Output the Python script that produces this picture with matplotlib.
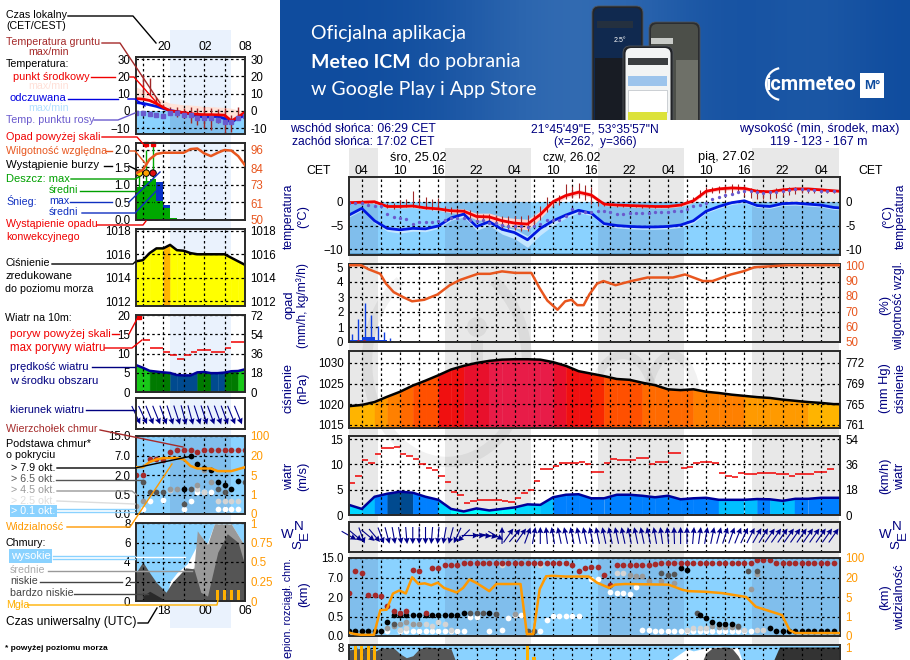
import matplotlib
matplotlib.use("Agg")
import matplotlib.pyplot as plt
import numpy as np
from matplotlib.lines import Line2D
from matplotlib.patches import Arc, Circle, FancyBboxPatch, Rectangle

W, H = 910, 660
plt.rcParams["font.family"] = ["Liberation Sans", "DejaVu Sans"]

NAVY = "#000080"
SKY = "#8AD2FF"
SKY_NIGHT = "#80BEEC"
RH_COLOR = "#E8561E"
VIS_COLOR = "#FF9900"
GROUND = "#A02828"
CLOUD_TOP = "#A52A2A"
DEW = "#6A5ACD"
TICK_SIZE = 8.3

# ---------- main meteogram data (hours since 25.02 00:00 CET) ----------
hours = list(range(2, 79, 2)) + [79]
temp_mid = [-0.2, -0.1, 0, -1.0, -1.0, -0.9, -1.3, -1.5, -1.9, -2.0, -3.1, -3.2, -4.0, -4.5, -4.7, -2.7, 0, 1.3, 2, 1.4, -0.5, -0.7, -0.8, -0.9, -1, -1, -0.7, 0.2, 2.2, 2.7, 2.9, 2.8, 2.2, 2.1, 2.5, 2.7, 2.7, 2.5, 2.3, 2.2]
temp_hi = [0, 0.1, 0.2, -0.7, -0.7, -0.6, -1, -1.2, -1.5, -1.5, -2.4, -2.4, -3.2, -3.5, -3.7, -1.9, 0.6, 1.8, 2.6, 1.9, -0.2, -0.4, -0.5, -0.6, -0.7, -0.7, -0.4, 0.6, 2.6, 3.1, 3.3, 3.2, 2.6, 2.5, 2.9, 3.1, 3, 2.8, 2.6, 2.5]
temp_lo = [-0.4, -0.3, -0.3, -1.3, -1.3, -1.2, -1.6, -1.8, -2.3, -2.6, -3.8, -4, -4.8, -5.5, -5.9, -3.5, -0.6, 0.8, 1.5, 0.9, -0.8, -1, -1.1, -1.2, -1.3, -1.3, -1, -0.2, 1.8, 2.3, 2.5, 2.4, 1.8, 1.7, 2.1, 2.3, 2.4, 2.2, 2, 1.9]
felt_mid = [-2.8, -1.4, -4.0, -5.6, -5.9, -5.6, -5.7, -5.1, -3.4, -2.6, -5.2, -4.2, -5.8, -6.5, -8.0, -5.6, -4.0, -2.8, -1.8, -2.4, -4.6, -5, -5.2, -5.3, -5.3, -5.2, -4.9, -4, -2, -1, -0.2, 0.2, -0.8, -1, -0.4, -0.3, -0.5, -0.7, -1.2, -1.3]
felt_hi = [-2.5, -1.1, -3.7, -5.2, -5.4, -5.2, -5.3, -4.8, -3.1, -2.2, -4.6, -3.7, -5.2, -5.8, -7.2, -4.9, -3.5, -2.4, -1.5, -2.1, -4.3, -4.7, -4.9, -5, -5, -4.9, -4.6, -3.7, -1.7, -0.7, 0.1, 0.5, -0.5, -0.7, -0.1, 0, -0.2, -0.4, -0.9, -1]
felt_lo = [-3.2, -1.8, -4.5, -6.2, -6.6, -6.2, -6.3, -5.6, -3.9, -3.2, -6, -5, -6.8, -7.8, -9.6, -7, -5, -3.4, -2.3, -2.9, -5.1, -5.5, -5.7, -5.8, -5.8, -5.7, -5.4, -4.5, -2.4, -1.4, -0.6, -0.2, -1.2, -1.4, -0.8, -0.7, -0.9, -1.1, -1.6, -1.7]

ground_hours = list(range(2, 79))
dew_point = [-0.2, -0.3, -0.2, -0.6, -1, -0.9, -2.6, -3.3, -3.5, -3.6, -4.6, -4.3, -4.2, -4.2, -4.1, -3.8, -3.5, -3.4, -3.5, -3.8, -4, -3.9, -4.4, -4.5, -4.9, -5, -5, -5.2, -5.3, -5.2, -4.7, -3.9, -3.9, -3.9, -2.9, -1.6, -2.4, -2.2, -2.1, -1.9, -2, -2.2, -2.6, -2.6, -2.3, -2.3, -2.3, -2.3, -2.2, -2.2, -2.1, -2, -1.9, -1.6, -1, -0.7, -0.2, 0.6, 1.1, 1.5, 1.7, 2, 2.2, 2.3, 2, 1.9, 2, 2.1, 2.3, 2.5, 2.6, 2.6, 2.5, 2.4, 2.3, 2.2, 2.2]
ground_max = [-0.1, 0, 0, 0.1, 0, 0, -0.2, -0.2, 0.3, 0.5, 2.2, 0.8, 0.9, 0.5, 0.7, -0.8, -1.2, -1.3, -1.5, -1.8, -2.2, -2.6, -2.6, -2.8, -3, -3, -3, -3, -2.8, -2.5, -1, 1, 0, 1.5, 3.8, 3.4, 4, 3.6, 3, 0.5, 0, -0.5, -0.7, -0.7, -0.8, -0.8, -0.9, -0.9, -0.9, -0.8, -0.8, -0.6, -0.5, 0.5, 1, 2.5, 3, 3.2, 3.3, 3.5, 3.7, 3.8, 3.5, 2.8, 2.6, 2.2, 2.4, 2.8, 3, 3, 3, 2.9, 2.7, 2.6, 2.5, 2.4, 2.3]
ground_min = [-0.4, -0.4, -0.3, -0.3, -0.3, -0.5, -1.4, -1.5, -1.4, -1.2, -1.2, -1.2, -1.5, -1.7, -1.8, -2.2, -2.5, -2.8, -3, -3.5, -4, -4.2, -4.4, -4.8, -5.5, -5.8, -6, -6.2, -6.2, -5.2, -3.8, -2.2, -1.2, -0.6, 0.6, 0.7, 0.8, 0.4, -0.4, -1, -1, -1, -1.1, -1.2, -1.2, -1.2, -1.3, -1.3, -1.3, -1.2, -1.2, -1, -0.8, 0, 0.3, 1, 1.5, 1.8, 1.8, 1.8, 1.8, 1.8, 1.2, 0.8, 0.6, 0.5, 0.6, 0.8, 1.2, 1.5, 1.7, 1.8, 1.9, 1.8, 1.8, 1.8, 1.8]

rh_hours = [2, 3.9, 5, 6.9, 7.8, 9, 10.6, 11.9, 13.8, 15.9, 17.8, 19.4, 22.2, 24.1, 26, 28.1, 30.6, 31.9, 33.1, 34.7, 35.9, 36.9, 37.8, 38.8, 39.7, 40.9, 41.9, 43.8, 46.3, 48.8, 52.8, 54.7, 57.5, 59, 61.9, 63.8, 65.6, 68.1, 70.6, 79]
rh_values = [100, 100, 97.5, 94.4, 88, 82.5, 79, 76.5, 77.5, 81, 87, 90.4, 94.4, 94.4, 96, 95, 95, 85, 77, 71, 76.5, 77.5, 74, 74, 81, 88, 89.7, 87, 89.7, 92, 92, 94, 89.7, 89.7, 94, 96, 98.7, 99.3, 100, 100]
precip_spike_hours = [2.5, 3.4, 4.5, 5.5, 6.6, 7.5, 8.4]
precip_spike = [0.55, 1.55, 2.6, 1.8, 1.1, 0.7, 0.3]
precip_hours = [2, 3, 4, 5, 6, 7, 8]
precip_mean = [0.12, 0.12, 0.35, 0.35, 0.15, 0.15, 0.08]

pressure = [1019.5, 1019.8, 1020.5, 1021.8, 1023, 1024.5, 1025.7, 1027, 1028.4, 1029.3, 1030, 1030.5, 1030.8, 1030.9, 1030.9, 1030.8, 1030.2, 1029.3, 1028, 1027.4, 1026.8, 1026.1, 1025.9, 1025.2, 1024.6, 1023.6, 1023.4, 1023.6, 1023, 1022.7, 1022.3, 1022, 1021.7, 1021.5, 1021.1, 1020.8, 1020.5, 1020.3, 1020, 1020]
pressure_bounds = [1016.6, 1020.5, 1022, 1023.5, 1025, 1026.5, 1027.5, 1029, 1030.3]
pressure_colors = ["#FFFF00", "#FFB400", "#FF9A00", "#FF8000", "#FF6A00", "#FF5000", "#F82800", "#F01010", "#E8102C", "#E81C48"]

wind_speed = [2.0, 1.2, 3.6, 4.2, 4.6, 4.4, 3.6, 3, 1.2, 0.7, 1.3, 0.9, 1.2, 1.5, 2.1, 2, 3.5, 4, 4.1, 3.3, 3.3, 4, 4, 3.8, 3.5, 3.8, 3.1, 3.3, 3.4, 3, 3, 3, 3.15, 3.1, 2.8, 3.2, 3.2, 3.4, 3.4, 3.4]
gust = [6.3, 7.7, 10.9, 10.3, 12, 13.2, 13.2, 13.5, 12, 11.7, 11, 10, 9.3, 8.8, 7.8, 6.5, 4.5, 3.9, 2.3, 2.8, 3, 3, 3, 3, 2.8, 2.5, 3.3, 4.3, 5, 6.7, 9, 9, 9.7, 10.3, 10.3, 10.3, 10.5, 10, 8.5, 8.5, 10.2, 11, 10.9, 10.9, 10.9, 11.3, 11.3, 10, 10.5, 10.5, 12.3, 12.3, 9.3, 9.5, 10.3, 10.5, 10.4, 10.2, 8.3, 7.8, 7.5, 8.3, 8, 8, 8.2, 8.2, 8.2, 8, 8, 7.7, 8, 8, 8, 8.5, 8.5, 9]
wind_bounds = [1.5, 2.2, 3.1, 4.2, 5.0, 5.5]
wind_colors = ["#00FFFF", "#00D8FF", "#00BFFF", "#0080FF", "#004A8F", "#007A00", "#18C818"]
wind_dir = [300, 310, 340, 310, 320, 340, 345, 350, 350, 355, 0, 0, 0, 5, 5, 10, 15, 25, 45, 270, 270, 275, 280, 300, 180, 215, 220, 215, 200, 190, 180, 175, 170, 168, 168, 168, 168, 168, 168, 168, 168, 168, 168, 168, 168, 168, 168, 168, 170, 172, 175, 178, 180, 180, 185, 188, 190, 192, 195, 198, 200, 202, 205, 207, 210, 212, 215, 215, 215, 215, 215, 215, 215, 215, 215, 215, 215]

cloud_top_hours = list(range(2, 79))
cloud_top = [2.9, 9.5, 9, 2.6, 2.6, 2.2, 1.3, 0.9, 0.8, 0.9, 10, 9.5, 0.8, 11, 11, 12, 12, 12, 13, 13, 13, 13, 13, 13, 13, 13, 13, 13, 13, 13, 13, 13, 13, 13, 13, 12, 9.5, 11, 11.5, 11.5, 8, 5, 12, 12, 12, 12, 12, 12, 12.5, 13, 13, 13, 13, 13, 13, 13, 13, 13, 13, 13, 13, 13, 13, 13, 14, 14.2, 14, 13, 13, 13, 13, 13, 13, 13, 13, 13, 13]
base8_hours = [2, 3, 4, 5, 6, 7, 8, 9, 10, 11, 12, 13, 14, 15, 16, 17, 18, 19, 20, 24, 57, 58, 59, 60, 61, 62, 54, 55, 68, 69, 70, 71, 72, 73, 74, 75, 76, 77, 78]
base8_km = [0.12, 0.12, 0.12, 0.12, 0.12, 0.14, 0.35, 0.6, 0.6, 0.6, 0.65, 0.65, 0.6, 0.6, 0.65, 0.65, 0.65, 0.65, 0.75, 0.8, 0.6, 0.45, 0.35, 0.3, 0.3, 0.3, 11, 10, 0.2, 0.13, 0.13, 0.13, 0.13, 0.13, 0.13, 0.13, 0.13, 0.13, 0.13]
base6_hours = [9, 21, 22, 23, 25, 30, 31, 51, 52, 53, 56.5, 63, 64.5, 66]
base6_km = [0.3, 0.8, 0.8, 0.8, 0.7, 0.12, 0.12, 9, 8, 8.5, 0.75, 0.25, 9.5, 9.5]
base4_hours = [8, 9, 10, 11, 12, 13, 25, 28, 46, 47, 48, 49, 51, 53, 66, 65, 59, 60, 61, 62, 63]
base4_km = [0.2, 0.25, 0.3, 0.35, 0.3, 0.3, 0.7, 0.7, 8, 7.5, 7.5, 6, 6, 5.5, 8.5, 4, 0.25, 0.22, 0.22, 0.22, 0.22]
base2_hours = [10, 11, 12, 14, 15, 16, 17, 18, 26, 32, 44, 45, 55, 56, 57, 58, 64, 66, 67]
base2_km = [0.15, 0.2, 0.3, 0.3, 0.25, 0.35, 0.3, 0.15, 12, 12, 9, 9, 0.15, 0.2, 0.2, 0.2, 0.15, 0.15, 0.15]
base0_hours = [7, 8, 10, 11, 12, 13, 14, 15, 16, 17, 18, 19, 20, 21, 22, 24, 26, 27, 28, 29, 32, 33, 34, 35, 36, 37, 38, 40, 41, 43, 44, 45, 46, 47, 48, 49, 50, 51, 52, 53, 54, 55, 56, 57, 58, 59, 60, 61, 62, 63, 64, 65]
base0_km = [0.12, 0.12, 0.12, 0.12, 0.12, 0.12, 0.12, 0.12, 0.12, 0.12, 0.12, 0.12, 0.12, 0.5, 0.5, 0.14, 0.16, 0.45, 0.65, 0.65, 0.12, 0.4, 0.55, 0.55, 0.55, 0.55, 0.55, 6.5, 6.5, 3.2, 3, 2.9, 2.8, 4.5, 0.16, 0.15, 0.14, 0.14, 0.14, 0.14, 0.13, 0.13, 0.14, 0.14, 0.14, 0.14, 0.14, 0.14, 0.14, 0.13, 0.13, 0.12]
vis_hours = [2, 2.9, 3.9, 5.9, 6.9, 7.9, 8.9, 9.9, 10.9, 11.9, 12.9, 13.9, 14.9, 15.9, 16.9, 18.9, 19.9, 20.9, 21.9, 22.9, 24, 25.1, 28.9, 29.9, 30.9, 31.9, 32.9, 33.9, 35.9, 39.6, 40.9, 42.8, 43.7, 45.3, 52.1, 54.3, 55.3, 58, 60.5, 64.3, 65.8, 69.9, 71.1, 72, 79]
vis_km = [0.17, 0.1, 0.06, 0.06, 2.3, 2.4, 7.7, 10, 7.7, 21, 15, 15.5, 14, 16, 12, 8.5, 12, 18.5, 16, 13, 9.5, 15, 15, 0.1, 0.1, 11, 25, 27, 24, 24, 16, 12, 14.5, 15, 14.5, 10.5, 9.5, 9, 8, 5, 3, 1.3, 0.3, 0.15, 0.15]

low_hours = [2, 3, 5, 6.2, 7, 9, 10, 11, 12, 13, 14, 18, 18.8, 20, 57, 58, 59, 61, 62, 63, 64]
low_cover = [7.8, 7.9, 8, 7.7, 8, 8, 7.4, 7, 7.2, 7.9, 8.1, 7.9, 6.5, 6, 6, 7.5, 8, 8.1, 8, 7.2, 6]
high_hours = [51, 53, 55, 56, 58, 60, 63, 64]
high_cover = [6, 7, 7.9, 7.7, 8, 8.1, 8, 6]
vlow_hours = [67, 68.5, 69.5, 78, 79]
vlow_cover = [6, 6.6, 8.1, 8.1, 8.1]
fog_hours = [3, 4, 5, 6, 30, 31]
fog_density = [1, 1, 1, 1, 1, 0.85]

# ---------- legend meteogram data (hours local, 16..32) ----------
leg_hours = list(range(16, 33))
leg_temp = [7.1, 6.8, 6, 4.2, 2, 0.0, -0.5, -1, -1.6, -2, -2.2, -2.2, -2.3, -2.5, -5.8, -3.5, -0.8]
leg_temp_hi = [14, 12, 10, 8, 6, 4.5, 4, 3.5, 3.4, 3, 2.5, 2.5, 2.2, 2, 1.5, 0.5, 0]
leg_felt = [4.8, 4.4, 3.5, 2.6, 1.4, 0.2, -0.4, -1.2, -1.8, -3, -3.6, -3.4, -3.2, -4.5, -6.6, -4, -2.7]
leg_dew = [-1, -1.3, -1.8, -2.2, -2.7, -1.4, -1, -2.3, -2.3, -4.3, -4.3, -4.3, -5.2, -6.2, -6.2, -4.3, -3]
leg_ground_hours = list(range(17, 32))
leg_ground_max = [21, 19, 8, 4, 2.5, 2.2, 1.5, 2, 1.5, 2, 1.4, 1.2, 1.5, -2.4, 2.5]
leg_ground_min = [10, 9, 3.5, 1, -2.4, -3.3, -4.2, -7, -8, -10, -11, -7, -13, -12.5, -5]
leg_rh = [80.7, 82.9, 89.9, 93.4, 94.2, 94.2, 94.2, 94.2, 96.6, 97, 93.8, 92, 94.2, 96, 95.6, 92, 86]
leg_rain_hours = [16, 17, 18, 19, 20, 21]
leg_rain = [0.94, 1.1, 1.18, 0.53, 0.34, 0.07]
leg_snow = [0, 0, 0, 0.55, 0.09, 0]
leg_rain_max_hours = [16.5, 17.5, 18.5]
leg_rain_max = [1.35, 2.0, 2.1]
leg_storm_colors = ["#FFE000", "#FFA000", "#E01010"]
leg_pressure = [1015.4, 1015.5, 1016.1, 1016.5, 1016.5, 1016.8, 1016.35, 1016.3, 1016.1, 1016, 1016, 1016, 1016, 1016, 1015.7, 1015.4, 1015.1]
leg_wind = [7, 6.3, 5.5, 5.3, 5.1, 4.95, 4.4, 4.3, 4.3, 5.1, 5.2, 4.9, 4.9, 5.05, 5.4, 5.45, 5.9]
leg_gust_hours = list(range(17, 32))
leg_gust = [13.5, 11.5, 11.5, 10.4, 9.6, 8.7, 9.7, 10.4, 10.8, 10.8, 10.4, 10.4, 11.5, 12.9, 12.9]
leg_dir = [335, 335, 338, 338, 340, 342, 342, 345, 345, 342, 342, 340, 340, 340, 338, 338]

leg_top_hours = list(range(16, 33))
leg_top = [2, 2, 6.2, 6.2, 5.8, 8.4, 9.2, 9.4, 9.4, 8.4, 9.4, 9.4, 9.4, 9.4, 9.4, 9.4, 9.4]
leg_base8_hours = [23, 24, 25, 26, 27, 28, 29, 30, 31]
leg_base8 = [0.89, 7, 4.7, 3.8, 3.2, 1.48, 1.22, 0.89, 1.52]
leg_base6_hours = [17, 18, 19, 20, 23, 24, 28, 29, 32]
leg_base6 = [1.5, 0.66, 0.66, 0.66, 0.25, 0.89, 0.89, 0.66, 1.48]
leg_base4_hours = [16, 17, 21, 22, 25, 26, 27]
leg_base4 = [0.2, 0.34, 0.89, 0.89, 1.22, 3.4, 1.48]
leg_base2_hours = [16, 21, 25, 26, 28, 29, 30, 31]
leg_base2 = [0.2, 0.85, 0.89, 0.71, 0.34, 0.34, 0.34, 0.34]
leg_base0_hours = [17, 18, 20, 23, 24, 25, 26, 27, 28, 29, 30, 31]
leg_base0 = [0.12, 0.34, 0.37, 0.12, 0.34, 0.66, 0.66, 0.71, 0.12, 0.12, 0.12, 0.12]
leg_vis_hours = [16, 17, 18, 19, 20, 21, 22, 23, 24, 25, 26, 27, 28, 29, 30, 31, 32]
leg_vis = [11, 11, 15, 17, 18, 18, 18, 17, 12, 10, 10, 10, 8, 8, 8, 9.5, 11]

leg_cloud_high_hours = [20.4, 21, 22, 23.5, 25, 26.5, 27.5, 30, 32]
leg_cloud_high = [0, 2.0, 2.9, 3.8, 5.8, 6, 7.9, 7.9, 5.6]
leg_cloud_mid_hours = [23.3, 24.5, 25, 25.5, 26.5, 27.5, 30, 32]
leg_cloud_mid = [3.0, 3.4, 7.2, 6.7, 5.8, 7.9, 7.9, 5.6]
leg_cloud_low_hours = [16, 17, 18, 19, 20.4, 21.3, 23.3, 24.5, 25.5, 26.5, 28, 29.4, 31, 32]
leg_cloud_low = [2.9, 4, 2.9, 1.9, 0.9, 1.9, 3.4, 3.3, 0.9, 0.5, 5, 6.9, 6, 3.6]
leg_cloud_vlow_hours = [17, 18, 20, 20.5]
leg_cloud_vlow = [0.5, 1, 0.2, 0]
leg_fog_hours = [28, 29, 30, 31]
leg_fog = [0.14, 0.14, 0.14, 0.14]

km_ticks = [0, 0.5, 2, 7, 15]
vis_ticks = [0, 1, 5, 20, 100]
even_ticks = [0, 1, 2, 3, 4]


def km_forward(v):
    return np.interp(v, km_ticks, even_ticks)


def km_inverse(v):
    return np.interp(v, even_ticks, km_ticks)


def vis_forward(v):
    return np.interp(v, vis_ticks, even_ticks)


def vis_inverse(v):
    return np.interp(v, even_ticks, vis_ticks)


fig = plt.figure(figsize=(W / 100, H / 100), dpi=100, facecolor="white")
renderer = fig.canvas.get_renderer()


def fx(x):
    return x / W


def fy(y):
    return 1 - y / H


def add_axes(x0, y0, x1, y1):
    return fig.add_axes([fx(x0), fy(y1), (x1 - x0) / W, (y1 - y0) / H])


def panel(box, xlim, ylim, yticks, grid_x, ylabels=None, size=TICK_SIZE, pad=4):
    """One framed panel with dashed grid and left tick labels"""
    ax = add_axes(*box)
    ax.patch.set_alpha(0)
    ax.set_xlim(*xlim)
    ax.set_ylim(*ylim)
    ax.set_xticks(grid_x)
    ax.set_xticklabels([])
    ax.set_yticks(yticks)
    if ylabels is not None:
        ax.set_yticklabels(ylabels)
    ax.tick_params(length=0, labelsize=size, pad=pad)
    ax.grid(True, color="black", lw=0.9, linestyle=(0, (2, 2.2)), zorder=6)
    ax.set_axisbelow(False)
    for spine in ax.spines.values():
        spine.set_linewidth(1.4)
        spine.set_color("#2A2A2A")
        spine.set_zorder(8)
    return ax


def right_axis(ax, ylim, ticks, labels, color="black", size=TICK_SIZE, pad=4, yscale=None):
    other = ax.twinx()
    other.patch.set_alpha(0)
    if yscale is not None:
        other.set_yscale("function", functions=yscale)
    other.set_ylim(*ylim)
    other.set_yticks(ticks)
    other.set_yticklabels(labels)
    other.minorticks_off()
    other.tick_params(length=0, labelsize=size, pad=pad, labelcolor=color)
    for spine in other.spines.values():
        spine.set_visible(False)
    return other


def fill_levels(ax, xs, ys, bounds, colors, base):
    for i in range(len(xs) - 1):
        mean = (ys[i] + ys[i + 1]) / 2
        color = colors[np.digitize(mean, bounds)]
        ax.fill_between(xs[i:i + 2], ys[i:i + 2], base, color=color, lw=0.3, zorder=2)


def sky_fill(ax, bottom, top, nights):
    ax.fill_between(ax.get_xlim(), bottom, top, color=SKY, lw=0, zorder=1)
    for a, b in nights:
        ax.fill_between([a, b], bottom, top, color=SKY_NIGHT, lw=0, zorder=1.1)


def scatter_layer(ax, xs, ys, color, size, zorder=4):
    ax.scatter(xs, ys, s=size, color=color, linewidths=0, zorder=zorder, clip_on=True)


def arrows(ax, xs, directions, length, ypos):
    theta = np.deg2rad(np.array(directions, dtype=float))
    ax.quiver(
        xs,
        [ypos] * len(xs),
        -np.sin(theta),
        -np.cos(theta),
        pivot="mid",
        angles="uv",
        units="dots",
        scale_units="dots",
        scale=1 / length,
        width=1.1,
        headwidth=5.5,
        headlength=5.5,
        headaxislength=5,
        color="#00008B",
        clip_on=False,
        zorder=5,
    )


def txt(x, y, s, color="black", size=8.8, ha="left", va="center", rotation=0, width=None, min_size=7.7, **kw):
    """Figure text at pixel position, optionally scaled to a pixel length"""
    t = fig.text(fx(x), fy(y), s, color=color, fontsize=size, ha=ha, va=va, rotation=rotation, **kw)
    if width is not None:
        box = t.get_window_extent(renderer=renderer)
        current = box.height if rotation else box.width
        t.set_fontsize(max(size * width / current, min_size))
    return t


def leader(points, color="black", lw=1.0):
    xs = [fx(p[0]) for p in points]
    ys = [fy(p[1]) for p in points]
    fig.add_artist(Line2D(xs, ys, color=color, lw=lw, transform=fig.transFigure, zorder=9))


# ---------- backgrounds ----------
main_bg = add_axes(349, 148, 840, 660)
main_bg.set_xlim(2, 79)
main_bg.set_ylim(0, 1)
main_bg.axis("off")
night_main = [(2, 6.5), (17, 30.5), (41, 54.5), (65.2, 78.8)]
for a, b in night_main:
    main_bg.axvspan(a, b, color="#E8E8E8", lw=0)

# faint logo behind the main chart
mark = add_axes(280, 120, 910, 660)
mark.set_xlim(280, 910)
mark.set_ylim(660, 120)
mark.axis("off")
mark_style = dict(color="black", alpha=0.055)
mark.add_patch(Arc((447, 362), 160, 200, theta1=-60, theta2=240, lw=7.5, **mark_style))
mark.add_patch(Circle((477, 327), 10, lw=0, **mark_style))
mark.add_patch(Rectangle((471, 340), 12, 80, lw=0, **mark_style))
mark.add_patch(Arc((623, 405), 62, 100, theta1=180, theta2=360, lw=6, **mark_style))
mark.add_patch(Arc((672, 405), 50, 100, theta1=180, theta2=345, lw=6, **mark_style))

leg_bg = add_axes(136, 30, 245, 628)
leg_bg.set_xlim(16, 32)
leg_bg.set_ylim(0, 1)
leg_bg.axis("off")
leg_bg.axvspan(21, 30, color="#EAF2FD", lw=0)
night_leg = [(21, 30)]

# ---------- banner ----------
banner = add_axes(280, 0, 910, 120)
xg = np.linspace(0, 1, 200)
gradient = 0.62 * np.exp(-(((xg - 0.47) / 0.2) ** 2)) + 0.2 * np.exp(-(((xg - 0.85) / 0.1) ** 2))
base_rgb = np.array([15, 76, 158]) / 255
light_rgb = np.array([70, 125, 190]) / 255
strip = base_rgb + (light_rgb - base_rgb) * gradient[:, None]
banner.imshow(strip[None, :, :], extent=[280, 910, 120, 0], aspect="auto", zorder=0)
banner.set_xlim(280, 910)
banner.set_ylim(120, 0)
banner.axis("off")
for x0, y0, x1, face, screen in [
    (592, 6, 643, "#23262B", "#10294F"),
    (649, 22, 700, "#2B2D30", "#4C4F49"),
]:
    banner.add_patch(FancyBboxPatch((x0, y0), x1 - x0, 140, boxstyle="round,pad=0,rounding_size=7", fc=face, ec="#50545A", lw=0.6, zorder=2))
    banner.add_patch(FancyBboxPatch((x0 + 2, y0 + 2), x1 - x0 - 4, 140, boxstyle="round,pad=0,rounding_size=6", fc=screen, ec="none", zorder=2.1))
banner.add_patch(Rectangle((595, 58), 46, 62, fc="#181C24", ec="none", zorder=2.15))
banner.add_patch(Rectangle((597, 21), 36, 7, fc="#24303F", ec="none", zorder=2.2))
banner.add_patch(Rectangle((651, 38), 22, 6, fc="#C9CCC8", ec="none", zorder=2.2))
banner.add_patch(Rectangle((676, 60), 22, 60, fc="#6E7068", ec="none", zorder=2.2))
banner.add_patch(FancyBboxPatch((623, 46), 50, 120, boxstyle="round,pad=0,rounding_size=7", fc="#222428", ec="#50545A", lw=0.6, zorder=3))
banner.add_patch(FancyBboxPatch((625.5, 48), 45, 120, boxstyle="round,pad=0,rounding_size=6", fc="#F2F4F4", ec="none", zorder=3.1))
banner.add_patch(Rectangle((628, 58), 40, 7, fc="#3A3D40", ec="none", zorder=3.2))
banner.add_patch(Rectangle((628, 76), 39, 10, fc="#9CC4EC", ec="none", zorder=3.2))
banner.add_patch(Rectangle((628, 90), 39, 22, fc="white", ec="#AAB0B8", lw=0.4, zorder=3.2))
banner.add_patch(Rectangle((628, 112), 39, 8, fc="#DCE23A", ec="none", zorder=3.2))
banner.text(614, 41, "2.5°", color="white", fontsize=5, ha="left", va="center", zorder=2.3)
banner.add_patch(Rectangle((860, 73), 24, 25, fc="white", ec="none", zorder=3))
banner.text(872, 86, "M°", color="#0F4C9E", fontsize=9.5, fontweight="bold", ha="center", va="center", zorder=4)
banner.add_patch(Arc((782, 84), 32, 32, theta1=100, theta2=260, color="white", lw=1.6, zorder=3))
banner.text(811, 85, "icmmeteo", color="white", fontsize=14.5, fontweight="bold", family="Roboto", ha="center", va="center", zorder=4)
banner.text(311, 34, "Oficjalna aplikacja", color="white", fontsize=14, family="Lato", va="center")
banner.text(311, 62, "Meteo ICM", color="white", fontsize=14, family="Lato", fontweight="bold", va="center")
banner.text(418, 62, "do pobrania", color="white", fontsize=14, family="Lato", va="center")
banner.text(311, 90, "w Google Play i App Store", color="white", fontsize=14.1, family="Lato", va="center")

# ---------- main panels ----------
xlim_main = (2, 79)
grid_main = list(range(4, 79, 3))

# temperature
ax = panel((349, 177, 840, 255), xlim_main, (-11.2, 5.2), [-10, -5, 0], grid_main)
sky_fill(ax, -11.2, 0, night_main)
ax.fill_between([2, 79], -11.2, -10.8, color="#5A9FD0", lw=0, zorder=1.2)
ax.fill_between(hours, felt_lo, felt_hi, color="#C4E6FF", lw=0, zorder=2)
ax.fill_between(hours, temp_lo, temp_hi, color="#FFD0CC", lw=0, zorder=2.1)
ax.vlines(ground_hours, ground_min, ground_max, color=GROUND, lw=0.8, zorder=3)
ax.plot(hours, felt_mid, color="#0018E0", lw=2, zorder=4)
ax.plot(hours, temp_mid, color="#F00000", lw=2, zorder=4.2)
ax.plot(ground_hours, dew_point, linestyle="none", marker="o", ms=2.4, color=DEW, mew=0, zorder=4.5)
right_axis(ax, (-11.2, 5.2), [-10, -5, 0], ["-10", "-5", "0"])

# precipitation + humidity
ax = panel((349, 264, 840, 342), xlim_main, (0, 5.2), [0, 1, 2, 3, 4, 5], grid_main)
ax.vlines(precip_spike_hours, 0, precip_spike, color="#1040E0", lw=1, zorder=3)
ax.bar(precip_hours, precip_mean, width=1, align="edge", color="#1040E0", lw=0, zorder=3)
ax.plot([3.4, 4.4], [0.02, 0.02], linestyle="none", marker="o", ms=2.2, color="#E01010", zorder=4)
ax.plot([2, 79], [0, 0], color="#1A8A1A", lw=1, zorder=3)
rh_ax = right_axis(ax, (50, 100.8), [50, 60, 70, 80, 90, 100], ["50", "60", "70", "80", "90", "100"], color=RH_COLOR)
rh_ax.plot(rh_hours, rh_values, color=RH_COLOR, lw=1.8, zorder=5)

# pressure
ylim_press = (1014.2, 1032.9)
ax = panel((349, 351, 840, 428), xlim_main, ylim_press, [1015, 1020, 1025, 1030], grid_main)
fill_levels(ax, hours, pressure, pressure_bounds, pressure_colors, ylim_press[0])
ax.plot(hours, pressure, color="black", lw=1.8, zorder=5)
right_axis(ax, (ylim_press[0] * 0.750062, ylim_press[1] * 0.750062), [1015 * 0.750062, 1020 * 0.750062, 1025 * 0.750062, 1030 * 0.750062], ["761", "765", "769", "772"])

# wind
ax = panel((349, 436, 840, 515), xlim_main, (0, 15.6), [0, 5, 10, 15], grid_main)
fill_levels(ax, hours, wind_speed, wind_bounds, wind_colors, 0)
ax.plot(hours, wind_speed, color="#000099", lw=1.8, zorder=5)
gust_hours = np.arange(2, 2 + len(gust))
ax.hlines(gust, gust_hours, gust_hours + 1, color="#F00000", lw=1.1, zorder=5)
right_axis(ax, (0, 15.6 * 3.6), [0, 18, 36, 54], ["0", "18", "36", "54"])

# wind direction
ax = panel((349, 522, 840, 552), xlim_main, (0, 1), [], grid_main)
arrows(ax, list(range(2, 2 + len(wind_dir))), wind_dir, 17, 0.55)

# cloud base + visibility
ax = panel((349, 558, 840, 636), xlim_main, (0, 1), [0, 0.5], grid_main)
ax.set_yscale("function", functions=(km_forward, km_inverse))
ax.set_ylim(0, 15)
ax.set_yticks(km_ticks)
ax.set_yticklabels(["0.0", "0.5", "2.0", "7.0", "15.0"])
ax.minorticks_off()
sky_fill(ax, 0, 15, night_main)
scatter_layer(ax, base0_hours, base0_km, "white", 17, 4)
scatter_layer(ax, base2_hours, base2_km, "#D4D4D4", 17, 4.1)
scatter_layer(ax, base4_hours, base4_km, "#999999", 17, 4.2)
scatter_layer(ax, base6_hours, base6_km, "#555555", 17, 4.3)
scatter_layer(ax, base8_hours, base8_km, "black", 17, 4.4)
scatter_layer(ax, cloud_top_hours, cloud_top, CLOUD_TOP, 17, 4.5)
vis_ax = right_axis(ax, (0, 100), vis_ticks, ["0", "1", "5", "20", "100"], color=VIS_COLOR, yscale=(vis_forward, vis_inverse))
vis_ax.plot(vis_hours, vis_km, color=VIS_COLOR, lw=1.8, zorder=5)

# cloud cover, only its top edge stays inside the picture
ax = panel((349, 645, 840, 726), xlim_main, (0, 8.3), [8], grid_main)
sky_fill(ax, 0, 8.3, [])
ax.fill_between(high_hours, high_cover, 0, color="white", lw=0, zorder=2)
ax.fill_between(low_hours, low_cover, 0, color="#555555", lw=0, zorder=2.2)
ax.fill_between(vlow_hours, vlow_cover, 0, color="#333333", lw=0, zorder=2.4)
ax.bar(fog_hours, np.array(fog_density) * 8.3, width=0.5, color="#FFB000", lw=0, zorder=4)
right_axis(ax, (0, 8.3 / 8), [1], ["1"], color=VIS_COLOR)

# ---------- legend panels ----------
xlim_leg = (16, 32)
grid_leg = [17, 20, 23, 26, 29]

ax = panel((136, 57, 245, 134), xlim_leg, (-13.4, 31.2), [-10, 0, 10, 20, 30], grid_leg)
sky_fill(ax, -13.4, 0, night_leg)
ax.fill_between(leg_hours, leg_temp, leg_temp_hi, color="#FFE2D8", lw=0, zorder=2)
ax.vlines(leg_ground_hours, leg_ground_min, leg_ground_max, color=GROUND, lw=1, zorder=3)
ax.plot(leg_hours, leg_felt, color="#0018E0", lw=2, zorder=4)
ax.plot(leg_hours, leg_temp, color="#F00000", lw=2, zorder=4.2)
ax.plot(leg_hours, leg_dew, linestyle="none", marker="s", ms=2.4, color=DEW, zorder=4.5)
right_axis(ax, (-13.4, 31.2), [-10, 0, 10, 20, 30], ["-10", "0", "10", "20", "30"])

ax = panel((136, 143, 245, 220), xlim_leg, (0, 2.2), [0, 0.5, 1, 1.5, 2], grid_leg, ["0.0", "0.5", "1.0", "1.5", "2.0"])
ax.bar(leg_rain_hours, leg_rain, width=1, align="edge", color="#00A800", lw=0, zorder=2)
ax.bar(leg_rain_hours, leg_snow, bottom=leg_rain, width=1, align="edge", color="#0A32C8", lw=0, zorder=2)
ax.vlines(leg_rain_max_hours, 0, leg_rain_max, color="#00A800", lw=1, zorder=3)
ax.plot(leg_rain_max_hours[1:], [2.18, 2.18], linestyle="none", marker="s", ms=2.6, color="#F00000", clip_on=False, zorder=7)
ax.scatter(leg_rain_max_hours, [1.34, 1.34, 1.34], s=22, c=leg_storm_colors, edgecolors="black", linewidths=0.7, zorder=7)
ax.plot([16.2, 19.5], [0, 0], color="#F00000", lw=1.4, linestyle=(0, (2, 1)), zorder=7, clip_on=False)
rh_ax = right_axis(ax, (50, 100.6), [50, 61, 73, 84, 96], ["50", "61", "73", "84", "96"], color=RH_COLOR)
rh_ax.plot(leg_hours, leg_rh, color=RH_COLOR, lw=1.8, zorder=5)

ylim_leg_press = (1011.6, 1018.15)
ax = panel((136, 229, 245, 306), xlim_leg, ylim_leg_press, [1012, 1014, 1016, 1018], grid_leg)
fill_levels(ax, leg_hours, leg_pressure, pressure_bounds, pressure_colors, ylim_leg_press[0])
ax.plot(leg_hours, leg_pressure, color="black", lw=1.8, zorder=5)
right_axis(ax, ylim_leg_press, [1012, 1014, 1016, 1018], ["1012", "1014", "1016", "1018"])

ax = panel((136, 315, 245, 392), xlim_leg, (0, 20), [0, 5, 10, 15, 20], grid_leg)
fill_levels(ax, leg_hours, leg_wind, wind_bounds, wind_colors, 0)
ax.plot(leg_hours, leg_wind, color="#000099", lw=1.8, zorder=5)
ax.hlines(leg_gust, np.array(leg_gust_hours), np.array(leg_gust_hours) + 1, color="#F00000", lw=1.1, zorder=5)
ax.plot([16.4], [19.5], marker="s", ms=2.4, color="#F00000", zorder=7)
right_axis(ax, (0, 72), [0, 18, 36, 54, 72], ["0", "18", "36", "54", "72"])

ax = panel((136, 398, 245, 429), xlim_leg, (0, 1), [], grid_leg)
arrows(ax, list(range(16, 16 + len(leg_dir))), leg_dir, 20, 0.45)

ax = panel((136, 436, 245, 514), xlim_leg, (0, 1), [0, 0.5], grid_leg)
ax.set_yscale("function", functions=(km_forward, km_inverse))
ax.set_ylim(0, 15)
ax.set_yticks(km_ticks)
ax.set_yticklabels(["0.0", "0.5", "2.0", "7.0", "15.0"])
ax.minorticks_off()
sky_fill(ax, 0, 15, night_leg)
scatter_layer(ax, leg_base0_hours, leg_base0, "white", 17, 4)
scatter_layer(ax, leg_base2_hours, leg_base2, "#D4D4D4", 17, 4.1)
scatter_layer(ax, leg_base4_hours, leg_base4, "#999999", 17, 4.2)
scatter_layer(ax, leg_base6_hours, leg_base6, "#555555", 17, 4.3)
scatter_layer(ax, leg_base8_hours, leg_base8, "black", 17, 4.4)
scatter_layer(ax, leg_top_hours, leg_top, CLOUD_TOP, 17, 4.5)
vis_ax = right_axis(ax, (0, 100), vis_ticks, ["0", "1", "5", "20", "100"], color=VIS_COLOR, yscale=(vis_forward, vis_inverse))
vis_ax.plot(leg_vis_hours, leg_vis, color=VIS_COLOR, lw=1.8, zorder=5)

ax = panel((136, 523, 245, 601), xlim_leg, (0, 8), [0, 2, 4, 6, 8], grid_leg)
sky_fill(ax, 0, 8, [])
ax.fill_between(leg_cloud_high_hours, leg_cloud_high, 0, color="white", lw=0, zorder=2)
ax.fill_between(leg_cloud_mid_hours, leg_cloud_mid, 0, color="#999999", lw=0, zorder=2.1)
ax.fill_between(leg_cloud_low_hours, leg_cloud_low, 0, color="#555555", lw=0, zorder=2.2)
ax.fill_between(leg_cloud_vlow_hours, leg_cloud_vlow, 0, color="#2A2A2A", lw=0, zorder=2.3)
ax.bar(leg_fog_hours, np.array(leg_fog) * 8, width=0.45, color="#FFB000", lw=0, zorder=4)
right_axis(ax, (0, 1), [0, 0.25, 0.5, 0.75, 1], ["0", "0.25", "0.5", "0.75", "1"], color=VIS_COLOR)

# ---------- header texts ----------
txt(290, 129, "wschód słońca: 06:29 CET", NAVY, width=146)
txt(292, 142, "zachód słońca: 17:02 CET", NAVY, width=142)
txt(595, 129, "21°45'49\"E, 53°35'57\"N", NAVY, 8.6, ha="center", width=127)
txt(595, 142, "(x=262,  y=366)", NAVY, 8.6, ha="center", width=82)
txt(819, 129, "wysokość (min, środek, max)", NAVY, 8.6, ha="center", width=159)
txt(819, 142, "119 - 123 - 167 m", NAVY, 8.6, ha="center", width=96)

for x, label_text in [(418, "śro, 25.02"), (572, "czw, 26.02"), (726, "pią, 27.02")]:
    txt(x, 157, label_text, size=9, ha="center", width=57)
txt(319, 171, "CET", size=8.8, ha="center")
txt(871, 171, "CET", size=8.8, ha="center")
tick_hours = [4, 10, 16, 22, 28, 34, 40, 46, 52, 58, 64, 70, 76]
tick_names = ["04", "10", "16", "22", "04", "10", "16", "22", "04", "10", "16", "22", "04"]
for h, name in zip(tick_hours, tick_names):
    txt(349 + (h - 2) * 491 / 77, 171, name, size=8.8, ha="center")

for name, x in [("20", 164), ("02", 205), ("08", 245)]:
    txt(x, 47, name, size=8.8, ha="center")
for name, x in [("18", 164), ("00", 205), ("06", 245)]:
    txt(x, 611, name, size=8.8, ha="center")

# rotated axis names
for x, y, s, length in [
    (289, 216, "temperatura", 65), (303, 216, "(°C)", None), (888, 216, "(°C)", None), (901, 216, "temperatura", 65),
    (289, 305, "opad", None), (303, 305, "(mm/h, kg/m³/h)", 84), (885, 305, "(%)", None), (899, 305, "wilgotność wzgl.", 88),
    (289, 388, "ciśnienie", None), (303, 388, "(hPa)", None), (885, 388, "(mm Hg)", None), (900, 388, "ciśnienie", None),
    (289, 476, "wiatr", None), (303, 476, "(m/s)", None), (885, 476, "(km/h)", None), (900, 476, "wiatr", None),
    (304, 594, "(km)", None), (885, 597, "(km)", None), (900, 597, "widzialność", None),
]:
    txt(x, y, s, NAVY, 9.3, ha="center", rotation=90, width=length)
txt(288, 558, "pion. rozciągł. chm.", NAVY, 9.3, ha="center", va="top", rotation=90, width=89)
txt(288, 654, "e", NAVY, 9.3, ha="center", rotation=90)
for x0 in (287, 885):
    txt(x0, 535, "W", NAVY, 9.6, ha="center")
    txt(x0 + 12, 527, "N", NAVY, 9.6, ha="center")
    txt(x0 + 18, 536, "E", NAVY, 9.6, ha="center", rotation=90)
    txt(x0 + 11, 545, "S", NAVY, 9.6, ha="center", rotation=90)

# ---------- legend column ----------
for x, y, s, color, length in [
    (6, 15, "Czas lokalny", "black", 59),
    (6, 26, "(CET/CEST)", "black", 54),
    (6, 42, "Temperatura gruntu", "#A52A2A", 93),
    (28, 52, "max/min", "#A52A2A", 38),
    (6, 64, "Temperatura:", "black", 62),
    (13, 77, "punkt środkowy", "#F00000", 77),
    (28, 86, "max/min", "#FFE0D8", 38),
    (10, 98, "odczuwana", "#0000E0", 57),
    (28, 108, "max/min", "#B0E0FF", 38),
    (6, 120, "Temp. punktu rosy", DEW, 88),
    (6, 137, "Opad powyżej skali", "#F00000", 95),
    (6, 151, "Wilgotność względna", RH_COLOR, 98),
    (6, 165, "Wystąpienie burzy", "black", 94),
    (6, 179, "Deszcz: max", "#00A000", 64),
    (49, 190, "średni", "#00A000", 29),
    (6, 201, "Śnieg:", "#1030C0", 24),
    (49, 201, "max", "#1030C0", 19),
    (49, 212, "średni", "#1030C0", 29),
    (6, 224, "Wystąpienie opadu", "#F00000", 89),
    (6, 237, "konwekcyjnego", "#F00000", 72),
    (5, 263, "Ciśnienie", "black", 43),
    (5, 276, "zredukowane", "black", 67),
    (5, 289, "do poziomu morza", "black", 87),
    (5, 318, "Wiatr na 10m:", "black", 67),
    (10, 334, "poryw powyżej skali", "#F00000", 101),
    (10, 348, "max porywy wiatru", "#F00000", 96),
    (10, 367, "prędkość wiatru", NAVY, 79),
    (10, 381, "w środku obszaru", NAVY, 89),
    (10, 410, "kierunek wiatru", NAVY, 74),
    (6, 429, "Wierzchołek chmur", "#A52A2A", 91),
    (6, 444, "Podstawa chmur*", "black", 85),
    (6, 455, "o pokryciu", "black", 48),
    (11, 468, "> 7.9 okt.", "black", 43),
    (11, 479, "> 6.5 okt.", "#555555", 43),
    (11, 490, "> 4.5 okt.", "#999999", 43),
    (11, 501, "> 2.5 okt.", "#DDDDDD", 43),
    (6, 527, "Widzialność", VIS_COLOR, 58),
    (6, 543, "Chmury:", "black", 39),
    (10, 570, "średnie", "#AAAAAA", 35),
    (10, 581, "niskie", "#444444", 26),
    (10, 593, "bardzo niskie", "#444444", 62),
    (6, 605, "Mgła", "#FFB000", 20),
    (6, 622, "Czas uniwersalny (UTC)", "black", 131),
]:
    txt(x, y, s, color, width=length)
txt(11, 511, "> 0.1 okt.", "white", bbox=dict(fc=SKY, ec="none", pad=1.2), width=43)
txt(11, 556, "wysokie", "white", bbox=dict(fc=SKY, ec="none", pad=1.2), width=40)
txt(5, 648, "* powyżej poziomu morza", size=6.8, fontweight="bold", width=103, min_size=6)

for pts, color in [
    ([(68, 16), (133, 16), (156, 43)], "black"),
    ([(102, 43), (120, 43), (160, 103)], "#A52A2A"),
    ([(91, 77), (115, 77)], "#F00000"),
    ([(130, 77), (134, 77), (157, 103)], "#F00000"),
    ([(68, 99), (118, 99)], "#0000E0"),
    ([(128, 99), (135, 99), (145, 106)], "#0000E0"),
    ([(94, 120), (118, 120), (135, 113)], DEW),
    ([(102, 137), (137, 137), (146, 147)], "#F00000"),
    ([(106, 151), (112, 151)], RH_COLOR),
    ([(130, 151), (135, 151), (145, 163)], RH_COLOR),
    ([(104, 166), (112, 166)], "black"),
    ([(129, 166), (137, 170)], "black"),
    ([(71, 179), (135, 179), (139, 177)], "#00A000"),
    ([(80, 191), (147, 191)], "#00A000"),
    ([(70, 202), (112, 202)], "#1030C0"),
    ([(129, 202), (160, 172)], "#1030C0"),
    ([(82, 213), (135, 213), (160, 187)], "#1030C0"),
    ([(97, 225), (143, 225), (146, 221)], "#F00000"),
    ([(52, 264), (133, 264), (135, 262)], "black"),
    ([(112, 334), (119, 334)], "#F00000"),
    ([(129, 334), (138, 317)], "#F00000"),
    ([(105, 348), (132, 348), (142, 340)], "#F00000"),
    ([(92, 367), (135, 367)], NAVY),
    ([(86, 410), (135, 410)], NAVY),
    ([(100, 430), (183, 447)], "#A52A2A"),
    ([(57, 468), (135, 468), (192, 456)], "black"),
    ([(56, 480), (143, 480)], "#555555"),
    ([(57, 491), (132, 491), (137, 495)], "#999999"),
    ([(57, 501), (135, 504)], "#DDDDDD"),
    ([(57, 509), (135, 509)], SKY),
    ([(57, 512), (135, 512)], SKY),
    ([(67, 527), (130, 527), (172, 464)], VIS_COLOR),
    ([(53, 556), (135, 556)], SKY),
    ([(53, 559), (135, 559)], SKY),
    ([(136, 557), (185, 557)], "white"),
    ([(48, 571), (192, 571)], "#999999"),
    ([(40, 582), (122, 582)], "#444444"),
    ([(130, 582), (135, 582)], "#444444"),
    ([(74, 594), (148, 594)], "#444444"),
    ([(28, 605), (217, 605), (218, 600)], "#FFB000"),
    ([(138, 623), (148, 623), (157, 608)], "black"),
]:
    leader(pts, color)

fig.savefig("out.png", dpi=100, facecolor="white")
